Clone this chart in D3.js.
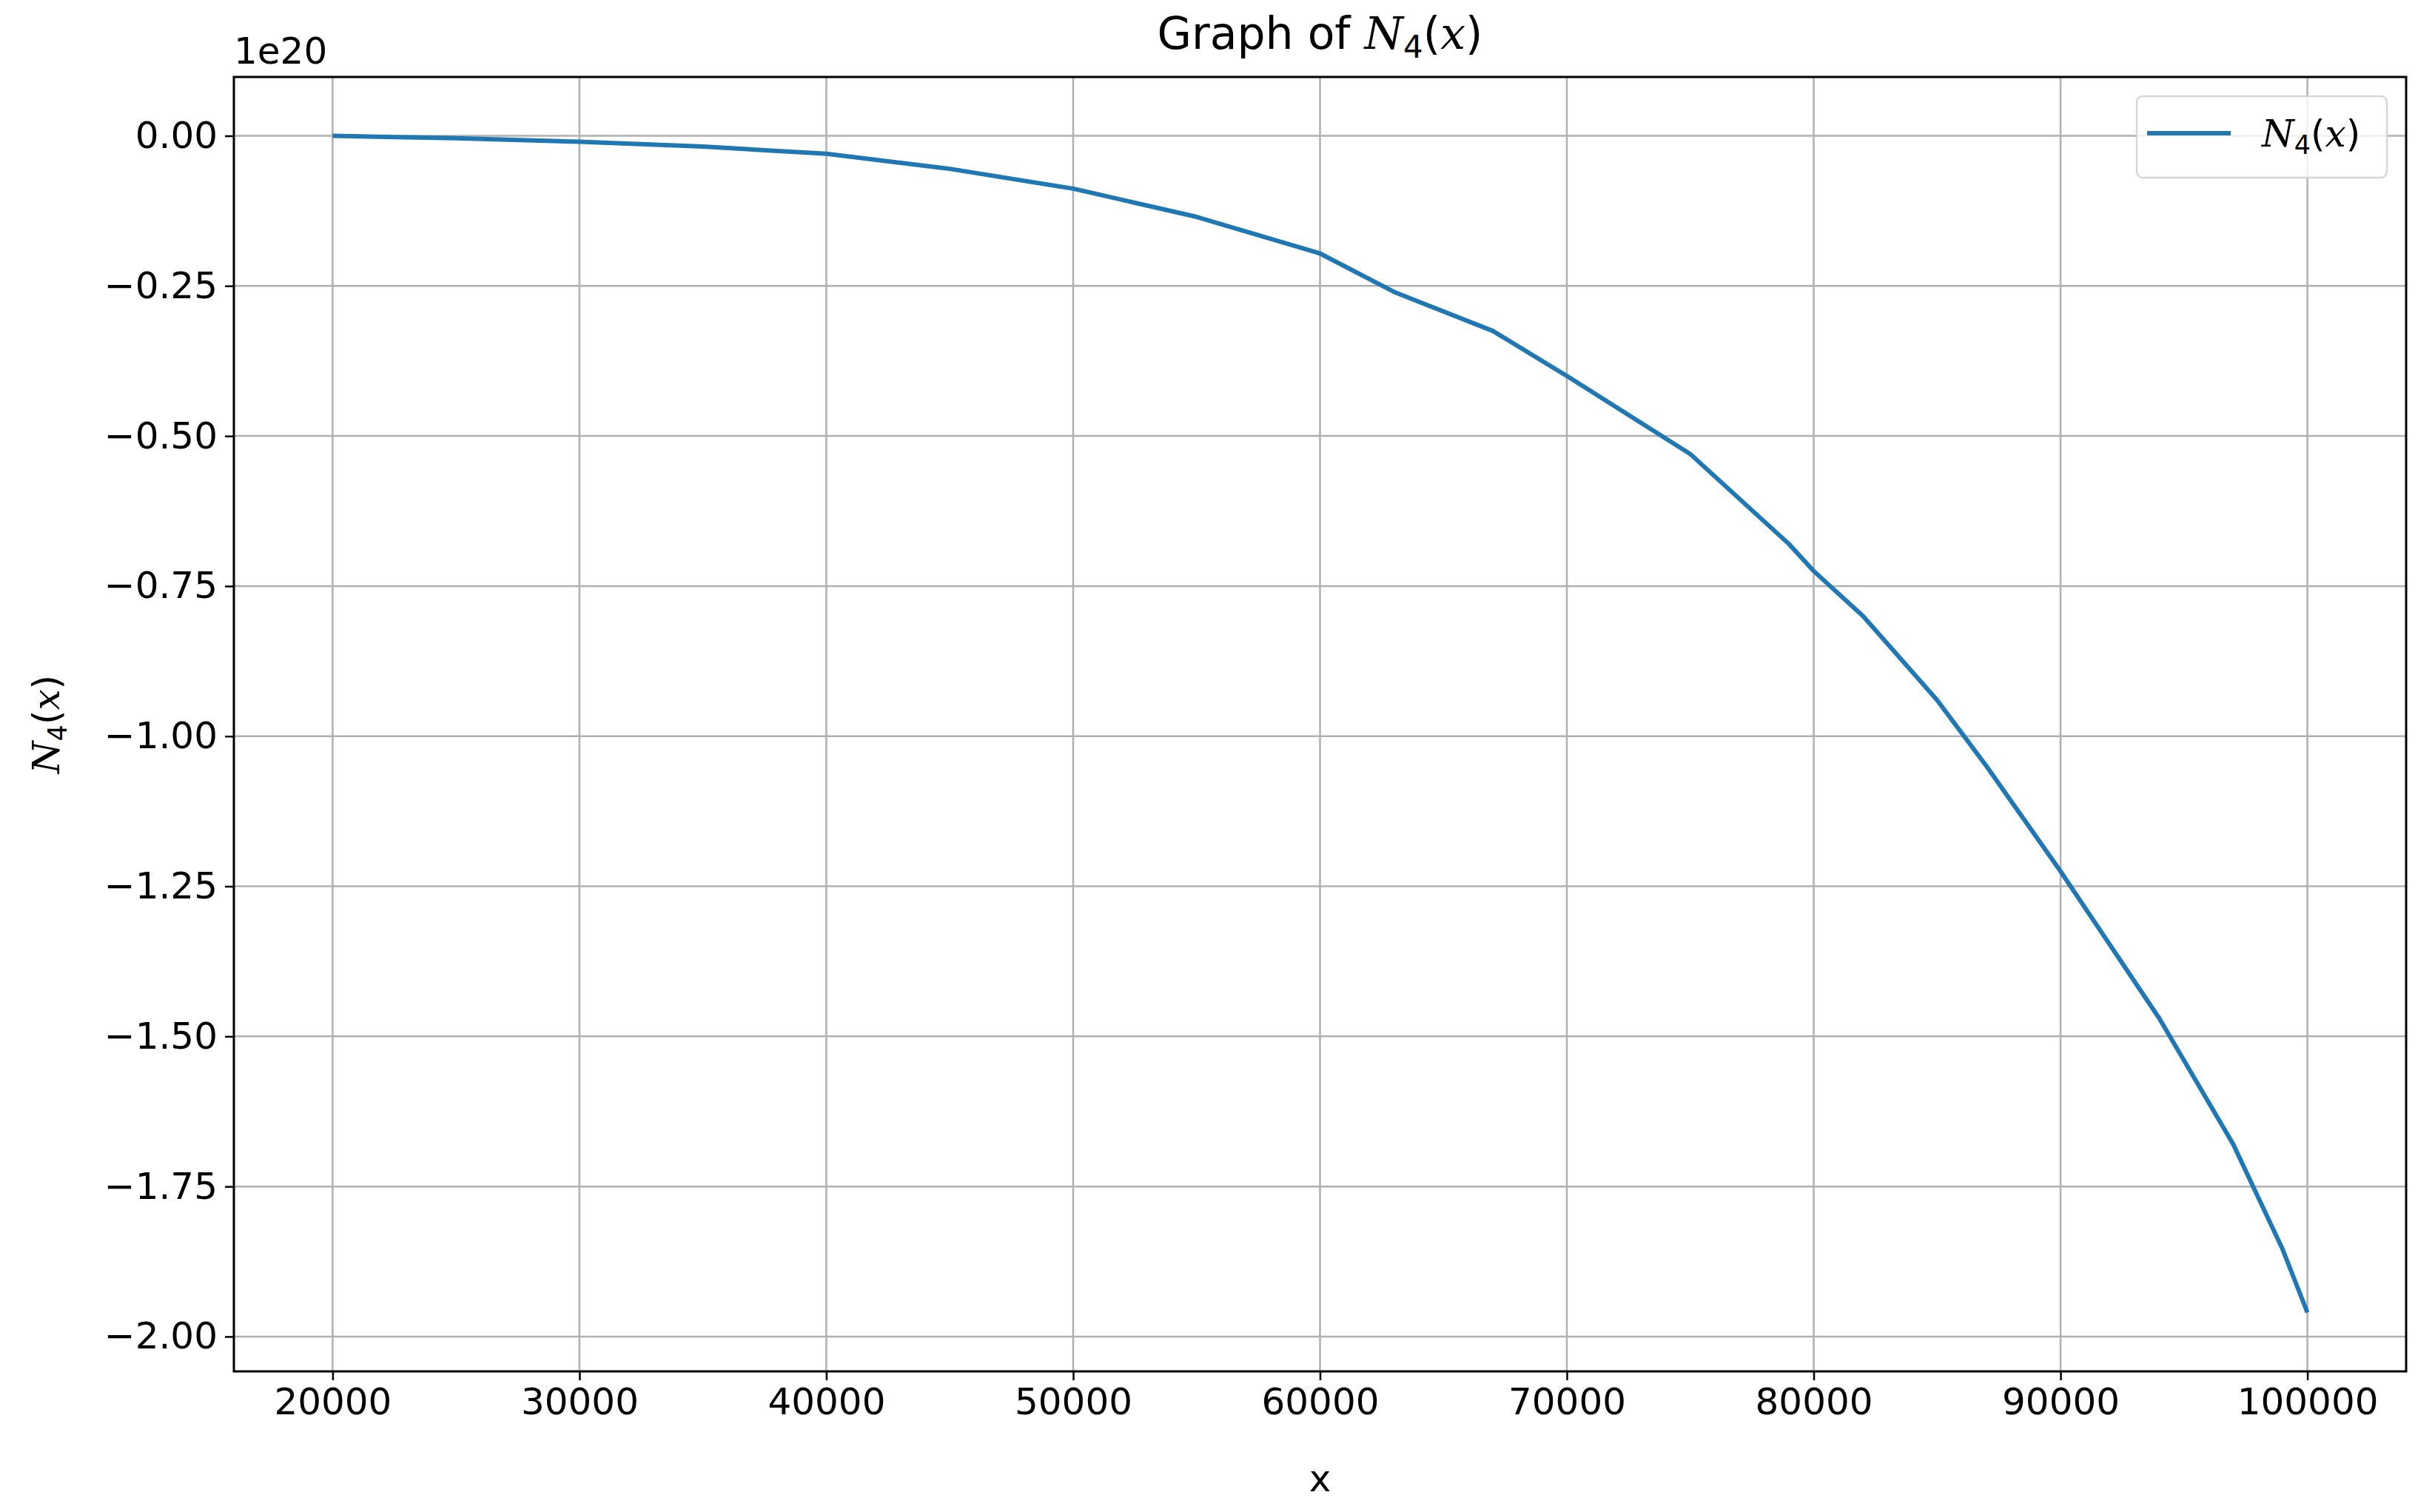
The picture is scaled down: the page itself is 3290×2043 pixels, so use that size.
<!DOCTYPE html>
<html>
<head>
<meta charset="utf-8">
<script src="https://d3js.org/d3.v7.min.js"></script>
<style>
  body { margin: 0; background: #fff; }
  text { font-family: 'DejaVu Sans', sans-serif; fill: #000; }
  .axis text { font-size: 50px; }
  .grid line { stroke: #b0b0b0; stroke-width: 2.5px; }
</style>
</head>
<body>
<script>
// values (y in units of 1e20)
var xValues = [20000, 25000, 30000, 35000, 40000, 45000, 50000, 55000, 60000, 63000, 67000, 70000,
               75000, 79000, 80000, 82000, 85000, 87000, 90000, 94000, 97000, 99000, 100000];
var yValues = [0, -0.004, -0.01, -0.018, -0.03, -0.055, -0.088, -0.135, -0.196, -0.26, -0.325, -0.40,
               -0.53, -0.68, -0.725, -0.80, -0.94, -1.05, -1.225, -1.47, -1.68, -1.855, -1.96];
var xTicks = [20000, 30000, 40000, 50000, 60000, 70000, 80000, 90000, 100000];
var yTicks = [0, -0.25, -0.5, -0.75, -1.0, -1.25, -1.5, -1.75, -2.0];

var W = 3290, H = 2043;
var margin = {top: 104, right: W - 3251, bottom: H - 1853, left: 316};
var width = W - margin.left - margin.right, height = H - margin.top - margin.bottom;

var svg = d3.select("body").append("svg").attr("width", W).attr("height", H);
var g = svg.append("g").attr("transform", "translate(" + margin.left + "," + margin.top + ")");

var x = d3.scaleLinear().domain([16000, 104000]).range([0, width]);
var y = d3.scaleLinear().domain([-2.058, 0.098]).range([height, 0]);

// grid
g.append("g").attr("class", "grid").selectAll("line").data(xTicks).enter().append("line")
  .attr("x1", x).attr("x2", x).attr("y1", 0).attr("y2", height);
g.append("g").attr("class", "grid").selectAll("line").data(yTicks).enter().append("line")
  .attr("y1", y).attr("y2", y).attr("x1", 0).attr("x2", width);

var xAxis = g.append("g").attr("class", "axis").attr("transform", "translate(0," + height + ")")
  .call(d3.axisBottom(x).tickValues(xTicks).tickFormat(d3.format("d")).tickSize(12).tickPadding(10));
var yAxis = g.append("g").attr("class", "axis")
  .call(d3.axisLeft(y).tickValues(yTicks).tickFormat(function(d) { return d3.format(".2f")(d).replace("-", "\u2212"); }).tickSize(12).tickPadding(10));
[xAxis, yAxis].forEach(function(a) {
  a.select(".domain").remove();
  a.selectAll("line").attr("stroke", "#000").attr("stroke-width", 2.5);
});

// line
g.append("path")
  .datum(xValues.map(function(v, i) { return [v, yValues[i]]; }))
  .attr("fill", "none").attr("stroke", "#1f77b4").attr("stroke-width", 6)
  .attr("stroke-linejoin", "round")
  .attr("d", d3.line().x(function(d) { return x(d[0]); }).y(function(d) { return y(d[1]); }));

// frame
g.append("rect").attr("width", width).attr("height", height)
  .attr("fill", "none").attr("stroke", "#000").attr("stroke-width", 3);

function mathLabel(sel, size) {
  sel.append("tspan").attr("font-family", "DejaVu Serif").attr("font-style", "italic").text("N");
  sel.append("tspan").attr("font-size", size * 0.7).attr("dy", size * 0.2).text("4");
  sel.append("tspan").attr("dy", -size * 0.2).text("(");
  sel.append("tspan").attr("font-family", "DejaVu Serif").attr("font-style", "italic").text("x");
  sel.append("tspan").text(")");
}

// title
var title = svg.append("text").attr("x", margin.left + width / 2).attr("y", 66)
  .attr("text-anchor", "middle").attr("font-size", 60);
title.append("tspan").text("Graph of ");
mathLabel(title, 60);

svg.append("text").attr("x", margin.left).attr("y", 86).attr("font-size", 50).text("1e20");

svg.append("text").attr("x", margin.left + width / 2).attr("y", 2015)
  .attr("text-anchor", "middle").attr("font-size", 50).text("x");

var yl = svg.append("text").attr("transform", "translate(80," + (margin.top + height / 2) + ") rotate(-90)")
  .attr("text-anchor", "middle").attr("font-size", 50);
mathLabel(yl, 50);

// legend
var lg = svg.append("g");
lg.append("rect").attr("x", 2887).attr("y", 130).attr("width", 338).attr("height", 110).attr("rx", 8)
  .attr("fill", "#fff").attr("fill-opacity", 0.8).attr("stroke", "#d6d6d6").attr("stroke-width", 2.5);
lg.append("line").attr("x1", 2901).attr("x2", 3014).attr("y1", 180).attr("y2", 180)
  .attr("stroke", "#1f77b4").attr("stroke-width", 6);
var lt = lg.append("text").attr("x", 3056).attr("y", 198).attr("font-size", 50);
mathLabel(lt, 50);
</script>
</body>
</html>
